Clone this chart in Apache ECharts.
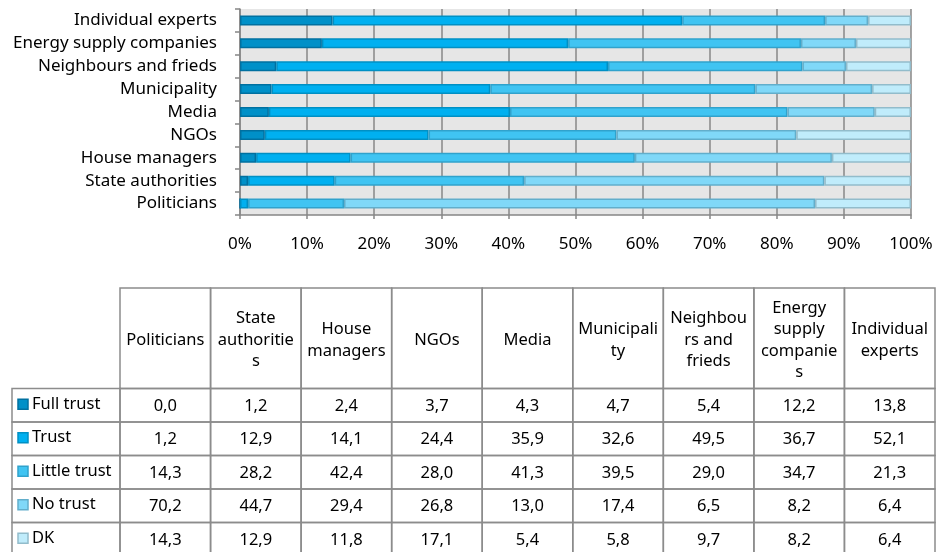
<!DOCTYPE html>
<html>
<head>
<meta charset="utf-8">
<script src="https://cdn.jsdelivr.net/npm/echarts@6/dist/echarts.min.js"></script>
<style>
  html, body { margin: 0; padding: 0; background: #fff; }
  #chart { width: 937px; height: 552px; }
</style>
</head>
<body>
<div id="chart"></div>
<script>
// categories, bottom to top on the bar chart (= left to right in the table)
const categories = ['Politicians', 'State authorities', 'House managers', 'NGOs', 'Media',
  'Municipality', 'Neighbours and frieds', 'Energy supply companies', 'Individual experts'];
// header texts as they are wrapped in the table
const tableHeaders = ['Politicians', 'State\nauthoritie\ns', 'House\nmanagers', 'NGOs', 'Media',
  'Municipali\nty', 'Neighbou\nrs and\nfrieds', 'Energy\nsupply\ncompanie\ns', 'Individual\nexperts'];

const fullTrust   = [0.0, 1.2, 2.4, 3.7, 4.3, 4.7, 5.4, 12.2, 13.8];
const trust       = [1.2, 12.9, 14.1, 24.4, 35.9, 32.6, 49.5, 36.7, 52.1];
const littleTrust = [14.3, 28.2, 42.4, 28.0, 41.3, 39.5, 29.0, 34.7, 21.3];
const noTrust     = [70.2, 44.7, 29.4, 26.8, 13.0, 17.4, 6.5, 8.2, 6.4];
const dk          = [14.3, 12.9, 11.8, 17.1, 5.4, 5.8, 9.7, 8.2, 6.4];

const seriesNames = ['Full trust', 'Trust', 'Little trust', 'No trust', 'DK'];
const xTicks = [0, 10, 20, 30, 40, 50, 60, 70, 80, 90, 100];

// look
const FONT = 'Noto Sans';
const fills   = ['#0090c8', '#00b0f0', '#40c4f2', '#80d8f8', '#c0ecfb'];
const borders = ['#0070a0', '#0090c4', '#30a2cc', '#62aecb', '#92bccb'];
const gridGrey = '#878787';
const cellLine = '#8c8c8c';
const keyColWidth = 108;

const allSeries = [fullTrust, trust, littleTrust, noTrust, dk];
// 100% stacked: each bar is shown as share of its row total
const totals = categories.map((c, i) => allSeries.reduce((s, arr) => s + arr[i], 0));

const barSeries = allSeries.map((arr, k) => ({
  name: seriesNames[k],
  type: 'bar',
  stack: 'total',
  xAxisIndex: 0,
  yAxisIndex: 0,
  barWidth: 10,
  data: arr.map((v, i) => v / totals[i] * 100),
  itemStyle: { color: fills[k], borderColor: borders[k], borderWidth: 1.5 },
  emphasis: { disabled: true }
}));

// table cells: header row spans 3 units, each data row 1 unit
const cells = [];
tableHeaders.forEach((h, i) => cells.push({ col: i, y0: 0, y1: 3, text: h, kind: 'head' }));
allSeries.forEach((arr, r) => {
  cells.push({ col: 0, y0: 3 + r, y1: 4 + r, text: seriesNames[r], kind: 'key', k: r });
  arr.forEach((v, i) => cells.push({ col: i, y0: 3 + r, y1: 4 + r, text: v.toFixed(1).replace('.', ','), kind: 'val' }));
});

const tableSeries = {
  type: 'custom',
  xAxisIndex: 1,
  yAxisIndex: 1,
  clip: false,
  silent: true,
  data: cells.map(c => [c.col, c.y0, c.y1]),
  renderItem: (params, api) => {
    const cell = cells[params.dataIndex];
    const p0 = api.coord([api.value(0), api.value(1)]);
    const p1 = api.coord([api.value(0), api.value(2)]);
    const bw = api.size([1, 0])[0];
    let x = p0[0] - bw / 2, w = bw;
    if (cell.kind === 'key') { x = x - keyColWidth; w = keyColWidth; }
    const y = p0[1], h = p1[1] - p0[1];
    const children = [{
      type: 'rect',
      shape: { x: x, y: y, width: w, height: h },
      style: { fill: 'none', stroke: cellLine, lineWidth: 1.5 }
    }];
    if (cell.kind === 'key') {
      children.push({
        type: 'rect',
        shape: { x: x + 6, y: y + h / 2 - 6, width: 10, height: 10 },
        style: { fill: fills[cell.k], stroke: borders[cell.k], lineWidth: 1.5 }
      });
      children.push({
        type: 'text',
        style: { x: x + 20, y: y + h / 2 - 1, text: cell.text, align: 'left', verticalAlign: 'middle',
          fontSize: 16.5, fontFamily: FONT, fill: '#000' }
      });
    } else {
      children.push({
        type: 'text',
        style: { x: x + w / 2, y: y + h / 2 + (cell.kind === 'head' ? 2 : 1), text: cell.text, align: 'center',
          verticalAlign: 'middle', fontSize: 16.5, fontFamily: FONT, fill: '#000', lineHeight: 21.5 }
      });
    }
    return { type: 'group', children: children };
  }
};

const chart = echarts.init(document.getElementById('chart'));
chart.setOption({
  animation: false,
  backgroundColor: '#fff',
  textStyle: { fontFamily: FONT },
  grid: [
    { left: 240, right: 26, top: 9, height: 206, show: true, backgroundColor: '#e6e6e6', borderWidth: 0 },
    // table: last row runs past the bottom edge of the picture
    { left: 120, right: 2, top: 288, bottom: 0 }
  ],
  xAxis: [
    {
      type: 'value', gridIndex: 0, min: xTicks[0], max: xTicks[xTicks.length - 1], interval: 10,
      axisLine: { show: true, lineStyle: { color: gridGrey, width: 1.5 } },
      axisTick: { show: true, length: 4, lineStyle: { color: gridGrey, width: 1.5 } },
      splitLine: { show: true, lineStyle: { color: gridGrey, width: 1.5 } },
      axisLabel: { formatter: '{value}%', margin: 21, fontSize: 17, color: '#000', fontFamily: FONT }
    },
    { type: 'category', gridIndex: 1, data: categories, show: false }
  ],
  yAxis: [
    {
      type: 'category', gridIndex: 0, data: categories,
      axisLine: { show: true, lineStyle: { color: gridGrey, width: 1.5 } },
      axisTick: { show: true, length: 5, lineStyle: { color: gridGrey, width: 1.5 } },
      axisLabel: { margin: 23, fontSize: 17, color: '#000', fontFamily: FONT }
    },
    { type: 'value', gridIndex: 1, min: 0, max: 7.88, inverse: true, show: false }
  ],
  series: barSeries.concat([tableSeries])
});
</script>
</body>
</html>
